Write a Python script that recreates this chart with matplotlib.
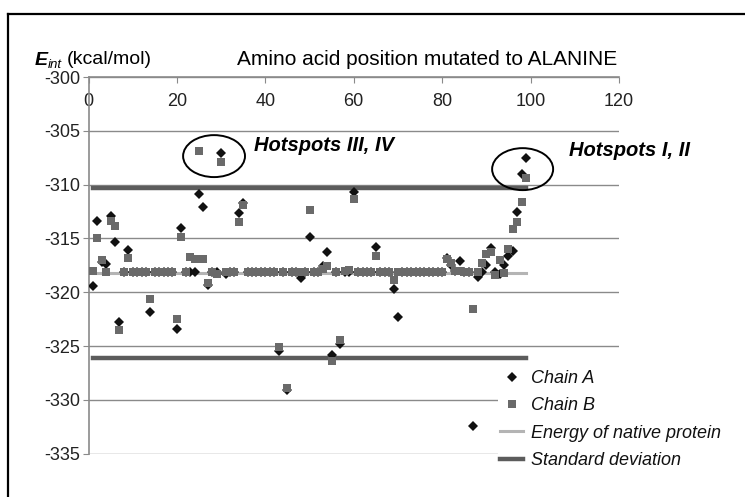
import numpy as np
import matplotlib.pyplot as plt
from matplotlib.patches import Ellipse
from matplotlib.lines import Line2D

plt.rcParams['font.family'] = ['Liberation Sans', 'DejaVu Sans']
plt.rcParams['axes.unicode_minus'] = False

# residue positions mutated to alanine
residues = np.arange(1, 100)

chain_a = [-319.4, -313.4, -317.2, -317.4, -312.9, -315.3, -322.8, -318.1, -316.1, -318.1,
           -318.1, -318.1, -318.1, -321.8, -318.1, -318.1, -318.1, -318.1, -318.1, -323.4,
           -314.0, -318.1, -318.1, -318.1, -310.9, -312.1, -319.3, -318.1, -318.1, -307.1,
           -318.3, -318.1, -318.1, -312.6, -311.7, -318.1, -318.1, -318.1, -318.1, -318.1,
           -318.1, -318.1, -325.5, -318.1, -329.1, -318.1, -318.1, -318.7, -318.1, -314.9,
           -318.1, -318.1, -317.6, -316.3, -325.8, -318.1, -324.8, -318.1, -318.1, -310.7,
           -318.1, -318.1, -318.1, -318.1, -315.8, -318.1, -318.1, -318.1, -319.7, -322.3,
           -318.1, -318.1, -318.1, -318.1, -318.1, -318.1, -318.1, -318.1, -318.1, -318.1,
           -316.8, -317.5, -318.0, -317.1, -318.1, -318.1, -332.4, -318.6, -318.1, -317.5,
           -315.9, -318.1, -318.3, -317.5, -316.6, -316.2, -312.5, -309.0, -307.5]

chain_b = [-318.0, -315.0, -317.0, -318.1, -313.4, -313.8, -323.5, -318.1, -316.8, -318.1,
           -318.1, -318.1, -318.1, -320.6, -318.1, -318.1, -318.1, -318.1, -318.1, -322.5,
           -314.9, -318.1, -316.7, -316.9, -306.9, -316.9, -319.1, -318.1, -318.3, -307.9,
           -318.1, -318.1, -318.1, -313.5, -311.9, -318.1, -318.1, -318.1, -318.1, -318.1,
           -318.1, -318.1, -325.1, -318.1, -328.9, -318.1, -318.1, -318.1, -318.1, -312.4,
           -318.1, -318.1, -317.8, -317.6, -326.4, -318.1, -324.4, -318.0, -317.9, -311.3,
           -318.1, -318.1, -318.1, -318.1, -316.6, -318.1, -318.1, -318.1, -318.9, -318.1,
           -318.1, -318.1, -318.1, -318.1, -318.1, -318.1, -318.1, -318.1, -318.1, -318.1,
           -316.9, -317.3, -318.0, -318.0, -318.1, -318.1, -321.6, -318.1, -317.3, -316.4,
           -316.3, -318.4, -317.0, -318.2, -316.0, -314.1, -313.5, -311.6, -309.4]

native_energy = -318.2
std_dev = 7.9
line_span = [1, 99]

x_ticks = [0, 20, 40, 60, 80, 100, 120]
y_ticks = [-300, -305, -310, -315, -320, -325, -330, -335]

W, H = 745, 497
fig = plt.figure(figsize=(W / 100, H / 100), dpi=100)


def px(x, y):
    return x / W, 1 - y / H


ax = fig.add_axes([88.5 / W, 1 - 453.7 / H, (619 - 88.5) / W, (453.7 - 77) / H])
ax.set_xlim(0, 120)
ax.set_ylim(-335, -300)

grid_c = '#8a8a8a'
for s in ['right', 'bottom']:
    ax.spines[s].set_visible(False)
for s in ['left', 'top']:
    ax.spines[s].set_color(grid_c)
    ax.spines[s].set_linewidth(1.2)

ax.set_yticks(y_ticks)
ax.set_xticks(x_ticks)
ax.yaxis.grid(True, color=grid_c, lw=1.0)
ax.set_axisbelow(True)
ax.tick_params(axis='y', direction='out', length=4, color=grid_c, pad=2, labelsize=13,
               labelcolor='#222222')
ax.tick_params(axis='x', top=True, bottom=False, labeltop=True, labelbottom=False,
               direction='in', length=4, color=grid_c, pad=-24, labelsize=13,
               labelcolor='#222222')

ax.plot(line_span, [native_energy] * 2, color='#b4b4b4', lw=2.2, zorder=2)
ax.plot(line_span, [native_energy + std_dev] * 2, color='#5c5c5c', lw=3.2, zorder=2)
ax.plot(line_span, [native_energy - std_dev] * 2, color='#5c5c5c', lw=3.2, zorder=2)

ax.plot(residues, chain_a, 'D', color='#111111', ms=5.5, mew=0, zorder=3)
ax.plot(residues, chain_b, 's', color='#6a6a6a', ms=6, mew=0, zorder=4)

ax.add_patch(Ellipse((28.4, -307.35), 14.0, 3.9, fill=False, color='black', lw=1.4, zorder=5))
ax.add_patch(Ellipse((98.2, -308.56), 13.8, 3.9, fill=False, color='black', lw=1.4,
                     zorder=5, clip_on=False))

ax.text(*px(254, 146), 'Hotspots III, IV', transform=fig.transFigure, fontsize=14.5,
        fontweight='bold', fontstyle='italic', va='center', ha='left')
ax.text(*px(569, 150), 'Hotspots I, II', transform=fig.transFigure, fontsize=14.5,
        fontweight='bold', fontstyle='italic', va='center', ha='left')

fig.text(*px(35, 65), 'E', fontsize=14, fontweight='bold', fontstyle='italic', va='baseline')
fig.text(*px(48, 68), 'int', fontsize=9.5, fontstyle='italic', va='baseline')
fig.text(*px(67, 64), '(kcal/mol)', fontsize=14, va='baseline')
fig.text(*px(237, 65), 'Amino acid position mutated to ALANINE', fontsize=15, va='baseline')

handles = [
    Line2D([], [], ls='none', marker='D', color='#111111', ms=5.5, mew=0),
    Line2D([], [], ls='none', marker='s', color='#6a6a6a', ms=6, mew=0),
    Line2D([], [], color='#b4b4b4', lw=2.2),
    Line2D([], [], color='#5c5c5c', lw=3.2),
]
labels = ['Chain A', 'Chain B', 'Energy of native protein', 'Standard deviation']
leg = ax.legend(handles, labels, loc='upper left', bbox_to_anchor=px(489, 359),
                bbox_transform=fig.transFigure, frameon=True, facecolor='white',
                edgecolor='none', framealpha=1, borderpad=0.1, handlelength=1.3,
                handletextpad=0.45, labelspacing=0.58, prop={'style': 'italic', 'size': 13})
for t in leg.get_texts():
    t.set_color('#111111')

fig.add_artist(Line2D([8 / W, 8 / W], [0, 1 - 14 / H], color='black', lw=1.6))
fig.add_artist(Line2D([8 / W, 1], [1 - 14 / H, 1 - 14 / H], color='black', lw=1.6))

fig.savefig('out.png', dpi=100)
